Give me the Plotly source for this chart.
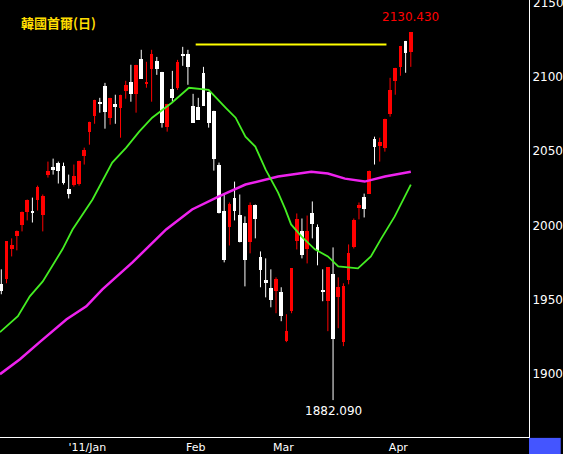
import plotly.graph_objects as go

# daily candles (index 0 = first visible day)
opens = [1960.2, 1963.6, 1983.7, 1992.5, 2000.0, 2008.7, 2010.0, 2017.4, 2007.3, 2034.2,
         2039.6, 2042.3, 2040.3, 2024.8, 2027.5, 2028.2, 2047.0, 2063.2, 2073.9, 2082.7,
         2094.1, 2072.6, 2082.0, 2079.3, 2090.8, 2096.8, 2088.7, 2112.3, 2095.5, 2105.6,
         2111.0, 2103.5, 2066.5, 2092.1, 2092.8, 2115.0, 2115.7, 2080.7, 2080.0, 2102.9,
         2090.1, 2077.3, 2041.0, 2010.0, 1998.6, 2018.7, 2007.3, 2001.9, 1988.5, 2014.0,
         1978.4, 1962.9, 1957.5, 1955.5, 1954.8, 1921.8, 1942.0, 1989.1, 1996.5, 1983.7,
         2008.0, 1999.2, 1956.2, 1948.8, 1966.9, 1951.4, 1921.2, 1962.9, 1985.1, 2012.0,
         2019.4, 2021.4, 2058.5, 2053.7, 2052.4, 2075.3, 2097.5, 2106.9, 2124.4, 2117.0]
highs = [1970.3, 1989.1, 1991.2, 1996.5, 2009.3, 2017.4, 2018.7, 2026.8, 2020.8, 2043.0,
         2045.0, 2043.0, 2042.3, 2034.2, 2041.0, 2043.6, 2052.4, 2069.9, 2084.7, 2086.0,
         2096.1, 2086.0, 2088.1, 2088.1, 2097.5, 2108.3, 2108.3, 2118.4, 2110.3, 2118.4,
         2113.6, 2103.5, 2082.0, 2104.2, 2111.6, 2120.4, 2118.4, 2088.7, 2086.0, 2106.9,
         2090.1, 2077.3, 2042.3, 2020.8, 2015.4, 2029.5, 2020.8, 2006.0, 2015.4, 2014.0,
         1982.4, 1977.7, 1970.3, 1964.9, 1958.2, 1940.0, 1971.0, 2008.0, 2004.6, 2006.6,
         2016.1, 2000.6, 1970.3, 1971.6, 1985.1, 1964.9, 1960.9, 1987.1, 2004.6, 2015.4,
         2021.4, 2036.9, 2059.8, 2059.1, 2071.9, 2099.5, 2106.2, 2121.0, 2124.4, 2130.43]
lows = [1953.5, 1960.9, 1979.0, 1983.1, 1995.9, 2003.3, 2001.9, 2010.0, 1995.9, 2032.2,
        2034.2, 2028.2, 2027.5, 2018.1, 2026.1, 2026.8, 2041.0, 2054.4, 2068.5, 2076.0,
        2065.2, 2067.9, 2068.5, 2059.1, 2085.4, 2083.4, 2076.0, 2098.8, 2092.8, 2083.4,
        2101.5, 2065.9, 2063.2, 2083.4, 2091.4, 2107.6, 2094.8, 2069.2, 2071.2, 2080.7,
        2065.9, 2036.9, 2008.0, 1975.0, 1986.4, 2003.3, 1988.5, 1958.8, 1981.1, 1991.2,
        1958.2, 1951.4, 1944.7, 1940.7, 1935.3, 1921.2, 1940.7, 1983.7, 1977.7, 1974.3,
        1991.2, 1973.0, 1948.8, 1928.6, 1882.09, 1930.6, 1918.5, 1960.2, 1984.4, 2004.0,
        2005.3, 2021.4, 2041.0, 2043.0, 2049.7, 2073.3, 2088.1, 2100.9, 2102.9, 2106.9]
closes = [1955.5, 1989.1, 1986.4, 1996.5, 2009.3, 2017.4, 2008.7, 2026.1, 2020.1, 2036.9,
          2037.6, 2036.9, 2028.8, 2021.4, 2033.5, 2043.6, 2051.0, 2069.9, 2084.7, 2082.0,
          2076.6, 2086.0, 2080.0, 2088.1, 2094.8, 2088.7, 2108.3, 2098.8, 2096.1, 2115.7,
          2105.6, 2069.2, 2082.0, 2086.0, 2110.3, 2114.3, 2106.9, 2069.2, 2071.2, 2080.7,
          2069.2, 2045.0, 2008.0, 1976.3, 2014.7, 2010.0, 1988.5, 1976.3, 2013.4, 2004.6,
          1969.6, 1960.9, 1949.4, 1963.6, 1938.7, 1928.6, 1971.0, 2004.6, 1979.7, 1996.5,
          2000.6, 1982.4, 1954.8, 1971.6, 1923.2, 1958.2, 1958.8, 1981.1, 2003.3, 2013.4,
          2011.3, 2036.9, 2053.1, 2056.4, 2071.9, 2091.4, 2106.2, 2121.0, 2116.3, 2130.43]

# moving averages
ma_short_x = [-0.25, 3.2, 5.5, 8.0, 11.8, 13.75, 17.6, 18.9, 21.4, 24.1, 26.6, 29.1, 32.9, 36.2,
              40.0, 43.3, 45.2, 47.1, 49.0, 51.0, 53.4, 54.8, 55.9, 57.9, 60.5, 63.0, 65.0,
              68.8, 71.3, 73.2, 75.9, 79.0]
ma_short_y = [1927.9, 1938.7, 1952.1, 1962.2, 1983.8, 1997.2, 2017.4, 2026.1, 2042.3, 2052.4,
              2063.2, 2072.6, 2082.7, 2092.8, 2091.4, 2079.3, 2072.6, 2059.8, 2053.1, 2037.6,
              2022.1, 2010.7, 2000.6, 1992.5, 1983.8, 1979.0, 1972.3, 1971.0, 1979.0, 1990.5,
              2006.0, 2027.5]
ma_long_x = [-0.25, 3.6, 7.4, 12.6, 16.4, 19.5, 25.3, 31.8, 36.8, 41.9, 47.1, 53.4, 59.8, 63.0,
             66.3, 70.1, 74.0, 79.0]
ma_long_y = [1899.6, 1909.7, 1921.2, 1936.6, 1945.4, 1956.8, 1975.0, 1997.2, 2010.7, 2019.4,
             2027.5, 2032.9, 2036.2, 2034.9, 2031.5, 2029.5, 2032.9, 2036.2]

resist_x = [37.5, 74.3]
resist_y = [2122.0, 2122.0]

month_pos = [16.6, 37.5, 54.4, 76.6]
month_text = ["'11/Jan", "Feb", "Mar", "Apr"]
price_ticks = [1900, 1950, 2000, 2050, 2100]
top_tick = 2150

idx = list(range(len(opens)))
up = [c >= o for o, c in zip(opens, closes)]
colors = ["#ff0000" if u else "#ffffff" for u in up]
base = [min(o, c) for o, c in zip(opens, closes)]
height = [max(abs(c - o), 0.8) for o, c in zip(opens, closes)]

fig = go.Figure()

# wicks, one trace per colour
for want, col in [(True, "#ff0000"), (False, "#ffffff")]:
    wx, wy = [], []
    for i in idx:
        if up[i] == want:
            wx += [i, i, None]
            wy += [lows[i], highs[i], None]
    fig.add_trace(go.Scatter(x=wx, y=wy, mode="lines", line=dict(color=col, width=1),
                             hoverinfo="skip", showlegend=False))

fig.add_trace(go.Bar(x=idx, y=height, base=base, width=0.72,
                     marker=dict(color=colors, line=dict(width=0)), showlegend=False))

fig.add_trace(go.Scatter(x=ma_long_x, y=ma_long_y, mode="lines",
                         line=dict(color="#ee22ee", width=2.5), showlegend=False))
fig.add_trace(go.Scatter(x=ma_short_x, y=ma_short_y, mode="lines",
                         line=dict(color="#44ee22", width=1.8), showlegend=False))
fig.add_trace(go.Scatter(x=resist_x, y=resist_y, mode="lines",
                         line=dict(color="#ffff00", width=2), showlegend=False))

fig.add_annotation(x=0.035, y=0.975, xref="paper", yref="paper", text="<b>韓國首爾(日)</b>",
                   showarrow=False, xanchor="left", yanchor="top",
                   font=dict(family="Noto Sans CJK TC", size=13, color="#ffdd00"))
fig.add_annotation(x=79, y=highs[79], text="2130.430", showarrow=False, yanchor="bottom",
                   yshift=6, font=dict(family="DejaVu Sans", size=12, color="#ff0000"))
fig.add_annotation(x=64, y=lows[64], text="1882.090", showarrow=False, yanchor="top",
                   yshift=-2, font=dict(family="DejaVu Sans", size=12, color="#ffffff"))
# top price label sits right at the edge, plotly would drop it as a tick
fig.add_annotation(x=1.0, xref="paper", y=top_tick, text=str(top_tick), showarrow=False,
                   xanchor="left", xshift=2, yanchor="middle",
                   font=dict(family="DejaVu Sans", size=12, color="white"))

# blue corner box
fig.add_shape(type="rect", xref="paper", yref="paper", x0=1.0, x1=1.06, y0=-0.04, y1=-0.002,
              fillcolor="#4455ff", line=dict(width=0))

fig.update_layout(
    width=563, height=454,
    margin=dict(l=0, r=31, t=0, b=16),
    paper_bgcolor="black", plot_bgcolor="black",
    bargap=0, showlegend=False,
    font=dict(family="DejaVu Sans", size=12, color="white"),
)
fig.update_xaxes(range=[-0.25, 101.8], showgrid=False, zeroline=False,
                 tickmode="array", tickvals=month_pos, ticktext=month_text,
                 showline=True, linecolor="white", linewidth=1, ticks="",
                 tickfont=dict(size=11, color="white"))
fig.update_yaxes(range=[1857.2, 2152], side="right", showgrid=False, zeroline=False,
                 tickvals=price_ticks,
                 showline=True, linecolor="white", linewidth=1, ticks="",
                 tickfont=dict(size=12, color="white"))

fig.write_html("out.html", config={"displayModeBar": False},
               post_script="document.body.style.margin='0';")
